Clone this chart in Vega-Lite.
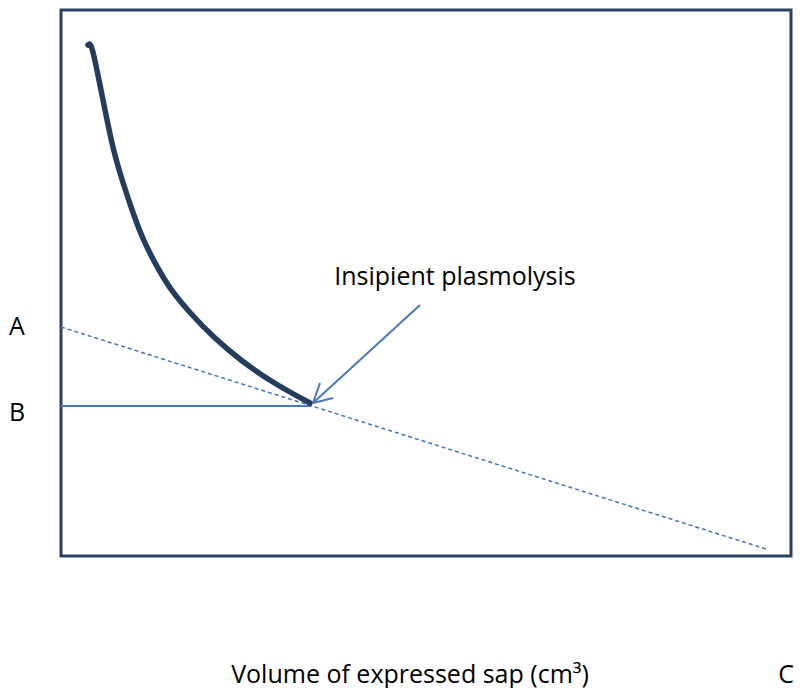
{
  "$schema": "https://vega.github.io/schema/vega-lite/v6.json",
  "width": 800,
  "height": 688,
  "autosize": {"type": "fit", "contains": "padding"},
  "padding": 0,
  "background": "white",
  "config": {"view": {"stroke": null}},
  "datasets": {
    "frame": [{"x": 61, "y": 132, "x2": 791, "y2": 678}],
    "curve": [
      {"x": 88, "y": 643, "o": 0},
      {"x": 90, "y": 645, "o": 1},
      {"x": 93, "y": 638, "o": 2},
      {"x": 103, "y": 588, "o": 3},
      {"x": 113, "y": 538, "o": 4},
      {"x": 123, "y": 505, "o": 5},
      {"x": 133, "y": 475, "o": 6},
      {"x": 143, "y": 448, "o": 7},
      {"x": 157, "y": 421, "o": 8},
      {"x": 170, "y": 399, "o": 9},
      {"x": 190, "y": 375, "o": 10},
      {"x": 213, "y": 351, "o": 11},
      {"x": 240, "y": 328, "o": 12},
      {"x": 273, "y": 305, "o": 13},
      {"x": 310, "y": 285, "o": 14}
    ],
    "dashed": [{"x": 61, "y": 361, "x2": 766, "y2": 139}],
    "solid": [
      {"x": 61, "y": 282, "x2": 311, "y2": 282},
      {"x": 420, "y": 383, "x2": 313, "y2": 285},
      {"x": 313, "y": 285, "x2": 320, "y2": 305},
      {"x": 313, "y": 285, "x2": 333, "y2": 290}
    ],
    "labels": [
      {"x": 455, "y": 411, "t": "Insipient plasmolysis", "a": "center"},
      {"x": 17, "y": 361, "t": "A", "a": "center"},
      {"x": 17, "y": 275, "t": "B", "a": "center"},
      {"x": 410, "y": 13, "t": "Volume of expressed sap (cm³)", "a": "center"},
      {"x": 786, "y": 13, "t": "C", "a": "left"}
    ]
  },
  "layer": [
    {
      "data": {"name": "frame"},
      "mark": {"type": "rect", "fill": null, "stroke": "#2b4163", "strokeWidth": 3},
      "encoding": {
        "x": {"field": "x", "type": "quantitative", "scale": {"domain": [0, 800], "nice": false, "zero": false}, "axis": null},
        "y": {"field": "y", "type": "quantitative", "scale": {"domain": [0, 688], "nice": false, "zero": false}, "axis": null},
        "x2": {"field": "x2"},
        "y2": {"field": "y2"}
      }
    },
    {
      "data": {"name": "dashed"},
      "mark": {"type": "rule", "stroke": "#4472c4", "strokeWidth": 1.5, "strokeDash": [4, 3]},
      "encoding": {
        "x": {"field": "x", "type": "quantitative"},
        "y": {"field": "y", "type": "quantitative"},
        "x2": {"field": "x2"},
        "y2": {"field": "y2"}
      }
    },
    {
      "data": {"name": "solid"},
      "mark": {"type": "rule", "stroke": "#4a78c0", "strokeWidth": 2},
      "encoding": {
        "x": {"field": "x", "type": "quantitative"},
        "y": {"field": "y", "type": "quantitative"},
        "x2": {"field": "x2"},
        "y2": {"field": "y2"}
      }
    },
    {
      "data": {"name": "curve"},
      "mark": {"type": "line", "stroke": "#243c5e", "strokeWidth": 5.5, "interpolate": "basis", "strokeCap": "round", "strokeJoin": "round"},
      "encoding": {
        "x": {"field": "x", "type": "quantitative"},
        "y": {"field": "y", "type": "quantitative"},
        "order": {"field": "o", "type": "quantitative"}
      }
    },
    {
      "data": {"name": "labels"},
      "mark": {"type": "text", "font": "Open Sans", "fontSize": 25, "color": "#000000", "baseline": "middle"},
      "encoding": {
        "x": {"field": "x", "type": "quantitative"},
        "y": {"field": "y", "type": "quantitative"},
        "text": {"field": "t"},
        "align": {"field": "a", "type": "nominal", "scale": null}
      }
    }
  ]
}
